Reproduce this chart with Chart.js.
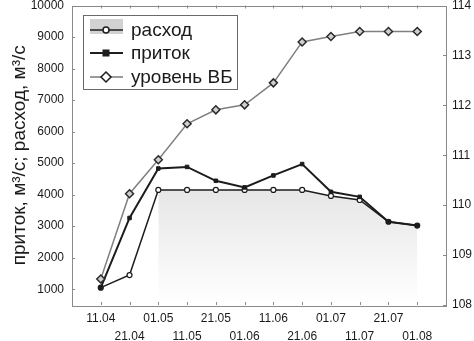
<!DOCTYPE html>
<html>
<head>
<meta charset="utf-8">
<script src="https://cdn.jsdelivr.net/npm/chart.js@4/dist/chart.umd.min.js"></script>
<style>
  html, body { margin: 0; padding: 0; background: #fff; overflow: hidden; }
  #wrap { position: absolute; left: 0; top: 0; width: 474px; height: 341px; }
</style>
</head>
<body>
<div id="wrap"><canvas id="c"></canvas></div>
<script>
// даты (подписи оси X)
var dates = ['11.04', '21.04', '01.05', '11.05', '21.05', '01.06', '11.06', '21.06', '01.07', '11.07', '21.07', '01.08'];
// расход, м3/с
var rashod = [1050, 1450, 4150, 4150, 4150, 4150, 4150, 4150, 3960, 3830, 3140, 3020];
// приток, м3/с
var pritok = [1050, 3260, 4830, 4880, 4440, 4230, 4610, 4970, 4090, 3930, 3140, 3020];
// уровень ВБ, м
var level = [108.52, 110.23, 110.91, 111.63, 111.91, 112.01, 112.45, 113.27, 113.38, 113.48, 113.48, 113.48];
// засечки левой оси
var leftTicks = [1000, 2000, 3000, 4000, 5000, 6000, 7000, 8000, 9000, 10000];

var FONT = 'Liberation Sans, Arial, sans-serif';

function pts(arr) {
  return arr.map(function (v, i) { return { x: i, y: v }; });
}
// заливка под расходом начинается с 01.05
var rashodFill = rashod.map(function (v, i) { return { x: i, y: i < 2 ? null : v }; });

// без автоматических отступов от подписей — поле графика ставим сами
function fixBox(w, h) {
  return function (s) {
    if (w) s.width = w;
    if (h) s.height = h;
    s.paddingLeft = 0; s.paddingRight = 0; s.paddingTop = 0; s.paddingBottom = 0;
  };
}

var noGrid = { display: false, drawTicks: false, tickLength: 0 };

// рамка графика и внутренние засечки
var framePlugin = {
  id: 'frame',
  afterDraw: function (chart) {
    var ctx = chart.ctx, a = chart.chartArea;
    var sx = chart.scales.x, sy = chart.scales.y, sy2 = chart.scales.y2;
    ctx.save();
    ctx.strokeStyle = '#8a8a8a';
    ctx.lineWidth = 1;
    ctx.strokeRect(Math.round(a.left) + 0.5, Math.round(a.top) + 0.5,
      Math.round(a.right - a.left), Math.round(a.bottom - a.top));
    ctx.beginPath();
    dates.forEach(function (d, i) {
      var x = Math.round(sx.getPixelForValue(i)) + 0.5;
      ctx.moveTo(x, a.bottom); ctx.lineTo(x, a.bottom - 3);
      ctx.moveTo(x, a.top); ctx.lineTo(x, a.top + 3);
    });
    leftTicks.forEach(function (v) {
      var y = Math.round(sy.getPixelForValue(v)) + 0.5;
      ctx.moveTo(a.left, y); ctx.lineTo(a.left + 3, y);
    });
    sy2.ticks.forEach(function (t) {
      var y = Math.round(sy2.getPixelForValue(t.value)) + 0.5;
      ctx.moveTo(a.right, y); ctx.lineTo(a.right - 3, y);
    });
    ctx.stroke();
    ctx.restore();
  }
};

// легенда в рамке
var legendPlugin = {
  id: 'boxLegend',
  afterDraw: function (chart) {
    var ctx = chart.ctx;
    var L = 83, T = 15, W = 154, H = 74;
    ctx.save();
    ctx.fillStyle = '#ffffff';
    ctx.fillRect(L, T, W, H);
    ctx.strokeStyle = '#6a6a6a';
    ctx.lineWidth = 1;
    ctx.strokeRect(L + 0.5, T + 0.5, W, H);

    var rows = [30, 53, 77];
    var x0 = 90, x1 = 123, xm = 106;
    // расход
    ctx.fillStyle = '#d2d2d2';
    ctx.fillRect(90, 19, 33, 15);
    ctx.strokeStyle = '#1e1e1e'; ctx.lineWidth = 1.5;
    ctx.beginPath(); ctx.moveTo(x0, rows[0]); ctx.lineTo(x1, rows[0]); ctx.stroke();
    ctx.fillStyle = '#ffffff';
    ctx.beginPath(); ctx.arc(xm, rows[0], 3, 0, Math.PI * 2); ctx.fill(); ctx.stroke();
    // приток
    ctx.lineWidth = 2;
    ctx.beginPath(); ctx.moveTo(x0, rows[1]); ctx.lineTo(x1, rows[1]); ctx.stroke();
    ctx.fillStyle = '#1e1e1e';
    ctx.fillRect(xm - 3.5, rows[1] - 3.5, 7, 7);
    // уровень ВБ
    ctx.strokeStyle = '#7a7a7a'; ctx.lineWidth = 1.5;
    ctx.beginPath(); ctx.moveTo(x0, rows[2]); ctx.lineTo(x1, rows[2]); ctx.stroke();
    ctx.fillStyle = '#ffffff'; ctx.strokeStyle = '#1e1e1e';
    ctx.beginPath();
    ctx.moveTo(xm, rows[2] - 5); ctx.lineTo(xm + 5, rows[2]);
    ctx.lineTo(xm, rows[2] + 5); ctx.lineTo(xm - 5, rows[2]); ctx.closePath();
    ctx.fill(); ctx.stroke();

    ctx.fillStyle = '#1a1a1a';
    ctx.font = '19px ' + FONT;
    ctx.textBaseline = 'middle';
    ctx.textAlign = 'left';
    ctx.fillText('расход', 131, rows[0] + 1);
    ctx.fillText('приток', 131, rows[1] + 1);
    ctx.fillText('уровень ВБ', 131, rows[2] + 1);
    ctx.restore();
  }
};

new Chart(document.getElementById('c'), {
  type: 'line',
  data: {
    datasets: [
      {
        label: 'уровень ВБ',
        data: pts(level),
        yAxisID: 'y2',
        borderColor: '#808080',
        borderWidth: 1.5,
        pointStyle: 'rectRot',
        pointRadius: 4,
        pointBorderWidth: 1.5,
        pointBorderColor: '#2a2a2a',
        pointBackgroundColor: '#cfcfcf',
        tension: 0,
        order: 1
      },
      {
        label: 'приток',
        data: pts(pritok),
        yAxisID: 'y',
        borderColor: '#1c1c1c',
        borderWidth: 2,
        pointStyle: 'rect',
        pointRadius: 2.5,
        pointBorderWidth: 1,
        pointBorderColor: '#1c1c1c',
        pointBackgroundColor: '#1c1c1c',
        tension: 0,
        order: 2
      },
      {
        label: 'расход',
        data: pts(rashod),
        yAxisID: 'y',
        borderColor: '#1c1c1c',
        borderWidth: 1.5,
        pointStyle: 'circle',
        pointRadius: 2.5,
        pointBorderWidth: 1.2,
        pointBorderColor: '#1c1c1c',
        pointBackgroundColor: '#ffffff',
        tension: 0,
        order: 3
      },
      {
        label: 'заливка',
        data: rashodFill,
        yAxisID: 'y',
        borderWidth: 0,
        pointRadius: 0,
        spanGaps: false,
        fill: 'start',
        backgroundColor: function (c) {
          var chart = c.chart, a = chart.chartArea;
          if (!a) return '#eeeeee';
          var top = chart.scales.y.getPixelForValue(4150);
          var g = chart.ctx.createLinearGradient(0, top, 0, a.bottom);
          g.addColorStop(0, '#e6e6e6');
          g.addColorStop(1, '#ffffff');
          return g;
        },
        order: 10
      }
    ]
  },
  options: {
    responsive: true,
    maintainAspectRatio: false,
    animation: false,
    layout: { padding: { top: 5, bottom: 0, left: 0, right: 0 } },
    plugins: { legend: { display: false }, tooltip: { enabled: false } },
    scales: {
      x: {
        type: 'linear',
        min: -1,
        max: 12,
        afterBuildTicks: function (s) {
          s.ticks = dates.map(function (d, i) { return { value: i }; });
        },
        afterFit: fixBox(0, 36),
        grid: noGrid,
        border: { display: false },
        ticks: {
          autoSkip: false,
          maxRotation: 0,
          padding: 5,
          color: '#1a1a1a',
          font: { family: FONT, size: 12, lineHeight: 1.5 },
          callback: function (v) {
            var lab = dates[v];
            if (lab === undefined) return '';
            return v % 2 === 0 ? [lab, ''] : ['', lab];
          }
        }
      },
      y: {
        position: 'left',
        min: 500,
        max: 10000,
        afterBuildTicks: function (s) {
          s.ticks = leftTicks.map(function (v) { return { value: v }; });
        },
        afterFit: fixBox(72, 0),
        grid: noGrid,
        border: { display: false },
        title: {
          display: true,
          text: 'приток, м³/с; расход, м³/с',
          color: '#1a1a1a',
          font: { family: FONT, size: 19 },
          padding: { top: 8, bottom: 0 }
        },
        ticks: {
          padding: 8,
          color: '#1a1a1a',
          font: { family: FONT, size: 12 },
          callback: function (v) { return String(v); }
        }
      },
      y2: {
        position: 'right',
        min: 108,
        max: 114,
        afterFit: fixBox(28, 0),
        grid: noGrid,
        border: { display: false },
        ticks: {
          stepSize: 1,
          padding: 6,
          color: '#1a1a1a',
          font: { family: FONT, size: 12 },
          callback: function (v) { return String(v); }
        }
      }
    }
  },
  plugins: [framePlugin, legendPlugin]
});
</script>
</body>
</html>
